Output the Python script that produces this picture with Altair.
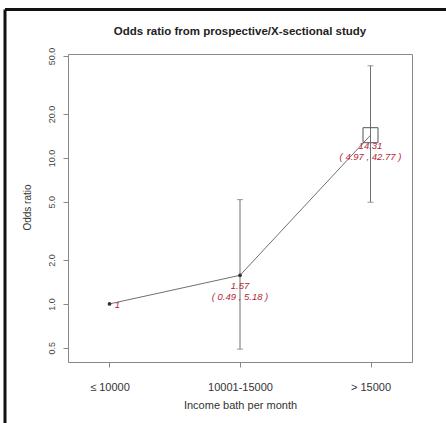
import altair as alt
import pandas as pd

# ---- data ----
categories = ["≤ 10000", "10001-15000", "> 15000"]
odds_ratio = [1.0, 1.57, 14.31]
ci_lower = [None, 0.49, 4.97]
ci_upper = [None, 5.18, 42.77]
y_ticks = [0.5, 1, 2, 5, 10, 20, 50]

df = pd.DataFrame({"cat": categories, "odds": odds_ratio, "lo": ci_lower, "hi": ci_upper})
df["est_label"] = [f"{v:g}" for v in odds_ratio]
df["ci_label"] = [
    f"( {l:.2f} , {h:.2f} )" if l is not None else "" for l, h in zip(ci_lower, ci_upper)
]

FONT = "Liberation Sans"
GREY = "#707070"
RED = "#b3283a"

x_scale = alt.Scale(type="point", padding=0.318)
y_scale = alt.Scale(type="log", domain=[0.40, 51.5], nice=False)

x_axis = alt.Axis(
    labelAngle=0, labelFontSize=11, labelColor="#333", labelPadding=14,
    tickSize=5, tickColor="#888", domain=False, grid=False,
    titleFontSize=11, titleFontWeight="normal", titleColor="#333",
    titleY=43, titleBaseline="middle",
)
y_axis = alt.Axis(
    values=y_ticks, format=".1f", labelAngle=270, labelAlign="center",
    labelBaseline="alphabetic", labelPadding=9, labelFontSize=9, labelColor="#444",
    tickSize=5, tickColor="#888", domain=False, grid=False,
    titleFontSize=10, titleFontWeight="normal", titleColor="#333",
    titleAngle=270, titleX=-41, titleY=153, titleAlign="center", titleBaseline="middle",
)


def X():
    return alt.X("cat:N", sort=categories, scale=x_scale, axis=x_axis,
                 title="Income bath per month")


def Y(field):
    return alt.Y(f"{field}:Q", scale=y_scale, axis=y_axis, title="Odds ratio")


base = alt.Chart(df)

line = base.mark_line(color=GREY, strokeWidth=1).encode(x=X(), y=Y("odds"))
has_ci = base.transform_filter("isValid(datum.lo)")
err = has_ci.mark_rule(color=GREY, strokeWidth=1).encode(x=X(), y=Y("lo"), y2="hi:Q")
cap_lo = has_ci.mark_tick(orient="horizontal", size=6, thickness=1, color=GREY).encode(x=X(), y=Y("lo"))
cap_hi = has_ci.mark_tick(orient="horizontal", size=6, thickness=1, color=GREY).encode(x=X(), y=Y("hi"))
dots = base.transform_filter("datum.cat != '> 15000'").mark_circle(
    size=14, color="#333", opacity=1).encode(x=X(), y=Y("odds"))
box = base.transform_filter("datum.cat == '> 15000'").mark_square(
    size=225, filled=False, color="#555", strokeWidth=1, opacity=1).encode(x=X(), y=Y("odds"))

txt_style = dict(font=FONT, fontSize=9.5, fontStyle="italic", color=RED)
est_txt = has_ci.mark_text(dy=11, **txt_style).encode(x=X(), y=Y("odds"), text="est_label:N")
ci_txt = has_ci.mark_text(dy=22, **txt_style).encode(x=X(), y=Y("odds"), text="ci_label:N")
ref_txt = base.transform_filter("!isValid(datum.lo)").mark_text(dx=8, dy=1, **txt_style).encode(
    x=X(), y=Y("odds"), text="est_label:N")

# outer picture frame (decoration)
one = alt.Chart(pd.DataFrame({"a": [0]}))
frame_top = one.mark_rule(color="#111", strokeWidth=3).encode(
    x=alt.value(-63), x2=alt.value(380), y=alt.value(-44.5))
frame_left = one.mark_rule(color="#111", strokeWidth=3).encode(
    x=alt.value(-63), y=alt.value(-44.5), y2=alt.value(372))

chart = alt.layer(
    frame_top, frame_left, line, err, cap_lo, cap_hi, dots, box, est_txt, ci_txt, ref_txt
).properties(
    width=344, height=308,
    title=alt.TitleParams(
        "Odds ratio from prospective/X-sectional study", fontSize=11.5, fontWeight="bold",
        font=FONT, color="#222", anchor="middle", baseline="alphabetic", offset=-38,
    ),
    autosize=alt.AutoSizeParams(type="none"),
    padding={"left": 68, "top": 54, "right": 34, "bottom": 61},
    background="white",
).configure_view(
    stroke="#888", strokeWidth=1
).configure_axis(
    labelFont=FONT, titleFont=FONT
)

chart.save("out.html", embed_options={"renderer": "svg", "actions": False})
